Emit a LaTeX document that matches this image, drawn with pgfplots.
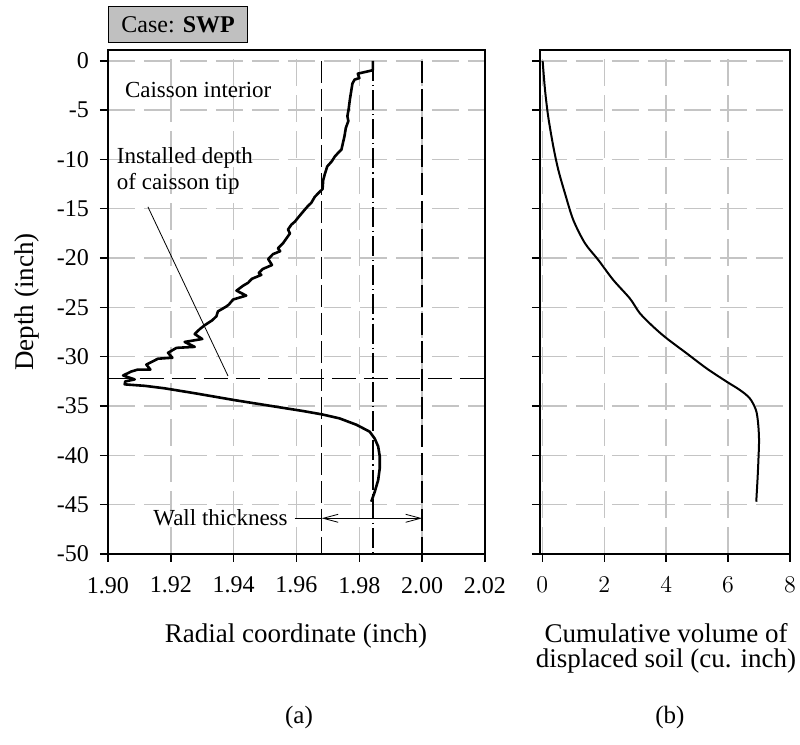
\documentclass[border=0pt]{standalone}
\usepackage{fontspec}
\setmainfont{Liberation Serif}
\usepackage{pgfplots}
\pgfplotsset{compat=1.18}
\usetikzlibrary{arrows.meta}

\definecolor{gridgray}{RGB}{196,196,196}
\definecolor{boxgray}{RGB}{192,192,192}

\pgfplotsset{
  panel/.style={
    scale only axis, height=252pt,
    ymin=-50, ymax=1.1,
    ytick={-50,-45,-40,-35,-30,-25,-20,-15,-10,-5,0},
    tick align=outside, tick pos=left, major tick length=4pt,
    tick style={black, line width=0.7pt},
    axis line style={line width=0.7pt},
    grid=major,
    major grid style={gridgray, line width=0.7pt, dash pattern=on 13.5pt off 4.5pt},
    tick label style={font=\fontsize{12}{14}\selectfont},
    xticklabel style={yshift=-4pt},
    yticklabel style={xshift=-2pt},
    clip=false,
  },
  refdash/.style={black, line width=0.7pt, dash pattern=on 11pt off 3pt},
}

\begin{document}
\begin{tikzpicture}
% (a) radial coordinate
\begin{axis}[panel, at={(0pt,0pt)}, anchor=south west, width=188.5pt,
    xmin=1.90, xmax=2.02,
    xtick={1.90,1.92,1.94,1.96,1.98,2.00,2.02},
    xticklabels={1.90,1.92,1.94,1.96,1.98,2.00,2.02},
    yticklabels={-50,-45,-40,-35,-30,-25,-20,-15,-10,-5,0},
  ]
  \addplot[refdash] coordinates {(1.968,0) (1.968,-50)};
  \addplot[refdash] coordinates {(2.000,0) (2.000,-50)};
  \addplot[black, line width=0.7pt, dash pattern=on 10pt off 2pt on 0.6pt off 2pt]
    coordinates {(1.9843,0) (1.9843,-50)};
  \addplot[black, line width=0.7pt, dash pattern=on 12pt off 4pt]
    coordinates {(1.90,-32.2) (2.02,-32.2)};
  \addplot[black, line width=1.3pt, line join=round] coordinates {
    (1.9843,0) (1.9843,-0.95) (1.9795,-1.3) (1.9800,-1.75) (1.9785,-1.9)
    (1.9778,-2.3) (1.9775,-2.9) (1.9770,-3.9) (1.9766,-4.9) (1.9762,-5.6)
    (1.9765,-6.1) (1.9757,-6.8) (1.9753,-7.6) (1.9748,-8.3) (1.9743,-9.0)
    (1.9732,-9.35) (1.9722,-9.7) (1.9712,-10.2) (1.9698,-10.7) (1.9690,-11.5)
    (1.9685,-12.1) (1.9683,-13.0) (1.9670,-13.4) (1.9658,-13.8) (1.9647,-14.4)
    (1.9637,-14.7) (1.9626,-15.1) (1.9605,-15.9) (1.9595,-16.3) (1.9584,-16.6)
    (1.9573,-17.1) (1.9579,-17.5) (1.9557,-18.5) (1.9541,-19.0) (1.9548,-19.3)
    (1.9525,-19.6) (1.9510,-20.1) (1.9522,-20.7) (1.9493,-21.1) (1.9480,-21.5)
    (1.9488,-21.7) (1.9458,-22.1) (1.9446,-22.5) (1.9430,-22.8) (1.9409,-23.3)
    (1.9440,-23.8) (1.9398,-24.2) (1.9385,-24.7) (1.9377,-24.9) (1.9350,-25.4)
    (1.9345,-25.9) (1.9332,-26.3) (1.9308,-26.8) (1.9292,-27.2) (1.9276,-27.7)
    (1.9300,-28.2) (1.9244,-28.5) (1.9276,-29.0) (1.9218,-29.1) (1.9191,-29.6)
    (1.9205,-30.1) (1.9159,-30.2) (1.9122,-30.8) (1.9135,-31.3) (1.9095,-31.3)
    (1.9074,-31.5) (1.9048,-31.9) (1.9085,-32.3) (1.9055,-32.5) (1.9053,-32.8)
    (1.9095,-32.9) (1.9117,-32.95) (1.9180,-33.2) (1.9276,-33.7) (1.9403,-34.4)
    (1.9531,-35.05) (1.9620,-35.5) (1.9682,-35.85) (1.9737,-36.25) (1.9791,-36.9)
    (1.9833,-37.6) (1.9849,-38.3) (1.9860,-39.1) (1.9865,-40.1) (1.9865,-41.3)
    (1.9860,-42.5) (1.9849,-43.7) (1.9838,-44.7)
  };
  \node[anchor=west, inner sep=0pt, font=\fontsize{11.5}{13}\selectfont]
    at (axis cs:1.9053,-2.95) {Caisson interior};
  \node[anchor=north west, inner sep=0pt, align=left, font=\fontsize{11.5}{13}\selectfont]
    at (axis cs:1.9027,-8.7) {Installed depth\\of caisson tip};
  \draw[black, line width=0.4pt] (axis cs:1.9127,-14.8) -- (axis cs:1.9382,-31.95);
  \node[anchor=east, inner sep=0pt, font=\fontsize{11.5}{13}\selectfont]
    at (axis cs:1.9573,-46.3) {Wall thickness};
  \draw[black, line width=0.4pt] (axis cs:1.9594,-46.38) -- (axis cs:1.968,-46.38);
  \draw[black, line width=0.4pt,
    {Straight Barb[length=7.5pt,width=4pt]}-{Straight Barb[length=7.5pt,width=4pt]}]
    (axis cs:1.968,-46.38) -- (axis cs:2.000,-46.38);
\end{axis}

% (b) cumulative volume
\begin{axis}[panel, at={(216pt,0pt)}, anchor=south west, width=125pt,
    xmin=-0.075, xmax=8,
    xtick={0,2,4,6,8},
    yticklabels={},
  ]
  \addplot[black, line width=1pt, smooth, tension=0.5] coordinates {
    (0.01,0) (0.087,-2.94) (0.19,-5.65) (0.355,-8.69) (0.516,-11.05)
    (0.73,-13.42) (1.0,-16.13) (1.377,-18.49) (1.806,-20.18) (2.29,-22.21)
    (2.83,-24.1) (3.15,-25.59) (3.58,-26.95) (4.01,-28.12) (4.66,-29.65)
    (5.3,-31.17) (5.95,-32.52) (6.38,-33.37) (6.7,-34.21) (6.9,-35.4)
    (6.97,-36.74) (7.0,-38.44) (6.98,-40.47) (6.95,-42.49) (6.91,-44.7)
  };
\end{axis}

\node[draw=black, fill=boxgray, line width=0.6pt, anchor=south west,
  minimum width=69.5pt, minimum height=18pt, inner sep=0pt,
  font=\fontsize{12}{14}\selectfont] at (0pt,255.5pt) {Case: \textbf{SWP}};

\node[rotate=90, font=\fontsize{13.5}{16}\selectfont] at (-40.5pt,126pt) {Depth (inch)};
\node[anchor=base, font=\fontsize{13.5}{16}\selectfont] at (94pt,-44.5pt) {Radial coordinate (inch)};
\node[anchor=base, font=\fontsize{13.5}{16}\selectfont] at (279pt,-44.5pt) {Cumulative volume of};
\node[anchor=base, font=\fontsize{13.5}{16}\selectfont] at (279pt,-57pt) {displaced soil (cu. inch)};
\node[anchor=base, font=\fontsize{12.5}{15}\selectfont] at (95.5pt,-85pt) {(a)};
\node[anchor=base, font=\fontsize{12.5}{15}\selectfont] at (281pt,-85pt) {(b)};

\pgfresetboundingbox
\path[use as bounding box] (-54pt,-95.5pt) rectangle (346pt,277pt);
\end{tikzpicture}
\end{document}
